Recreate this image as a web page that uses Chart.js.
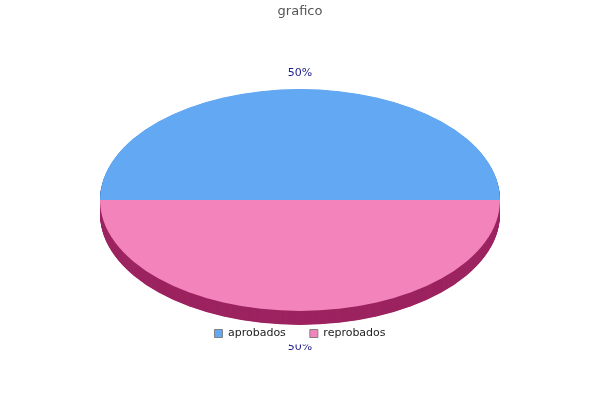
<!DOCTYPE html>
<html>
<head>
<meta charset="utf-8">
<script src="https://cdn.jsdelivr.net/npm/chart.js@4/dist/chart.umd.min.js"></script>
<style>
  html, body { margin: 0; padding: 0; background: #ffffff; }
  #wrap { width: 600px; height: 400px; }
</style>
</head>
<body>
<div id="wrap"><canvas id="c" width="600" height="400"></canvas></div>
<script>
const titleText = 'grafico';
const categories = ['aprobados', 'reprobados'];
const values = [50, 50];
const faceColors = ['#62a8f3', '#f383bb'];
const sideColors = ['#2a5e9e', '#9c2460'];

const CX = 300, CY = 200, RX = 200, RY = 111, DEPTH = 14;

function drawPctLabels(chart) {
  const meta = chart.getDatasetMeta(0);
  const ctx = chart.ctx;
  const total = values.reduce((a, b) => a + b, 0);
  ctx.save();
  ctx.font = '11px "DejaVu Sans"';
  ctx.fillStyle = '#1c1c8a';
  ctx.textAlign = 'center';
  ctx.textBaseline = 'middle';
  meta.data.forEach((arc, i) => {
    const a = (arc.startAngle + arc.endAngle) / 2;
    const s = Math.sin(a);
    const x = CX + Math.cos(a) * (RX + 16);
    const y = CY + s * (RY + 16) + (s > 0 ? DEPTH + 6 : 0);
    ctx.fillText(Math.round(values[i] / total * 100) + '%', x, y);
  });
  ctx.restore();
}

const pie3d = {
  id: 'pie3d',
  beforeDraw(chart) {
    // labels sit underneath the legend, which has a white backing
    drawPctLabels(chart);
    const lg = chart.legend;
    const ctx = chart.ctx;
    ctx.save();
    ctx.fillStyle = '#ffffff';
    const items = lg.legendHitBoxes;
    if (items && items.length) {
      const x0 = items[0].left - 6;
      const x1 = items[items.length - 1].left + items[items.length - 1].width + 6;
      const yc = items[0].top + items[0].height / 2;
      ctx.fillRect(x0, yc - 10, x1 - x0, 21);
    }
    ctx.restore();
  },
  beforeDatasetsDraw(chart) {
    const meta = chart.getDatasetMeta(0);
    const ctx = chart.ctx;
    const slice = (arc, color, dy) => {
      ctx.save();
      ctx.fillStyle = color;
      ctx.beginPath();
      ctx.moveTo(CX, CY + dy);
      ctx.ellipse(CX, CY + dy, RX, RY, 0, arc.startAngle, arc.endAngle);
      ctx.closePath();
      ctx.fill();
      ctx.restore();
    };
    for (let d = DEPTH; d >= 0.5; d -= 0.5) {
      meta.data.forEach((arc, i) => slice(arc, sideColors[i], d));
    }
    meta.data.forEach((arc, i) => slice(arc, faceColors[i], 0));
    return false;
  }
};

new Chart(document.getElementById('c'), {
  type: 'pie',
  data: {
    labels: categories,
    datasets: [{
      data: values,
      backgroundColor: faceColors,
      borderWidth: 0
    }]
  },
  options: {
    responsive: false,
    animation: false,
    rotation: -90,
    layout: { padding: { bottom: 51 } },
    plugins: {
      tooltip: { enabled: false },
      title: {
        display: true,
        text: titleText,
        color: '#555555',
        font: { family: 'DejaVu Sans', size: 13, weight: 'normal' },
        padding: { top: 4, bottom: 10 }
      },
      legend: {
        position: 'bottom',
        labels: {
          color: '#222222',
          font: { family: 'DejaVu Sans', size: 11 },
          boxWidth: 8,
          boxHeight: 8,
          padding: 24,
          generateLabels(chart) {
            return categories.map((c, i) => ({
              text: c,
              fillStyle: faceColors[i],
              strokeStyle: '#808080',
              lineWidth: 1,
              fontColor: '#222222',
              hidden: false,
              index: i
            }));
          }
        }
      }
    }
  },
  plugins: [pie3d]
});
</script>
</body>
</html>
